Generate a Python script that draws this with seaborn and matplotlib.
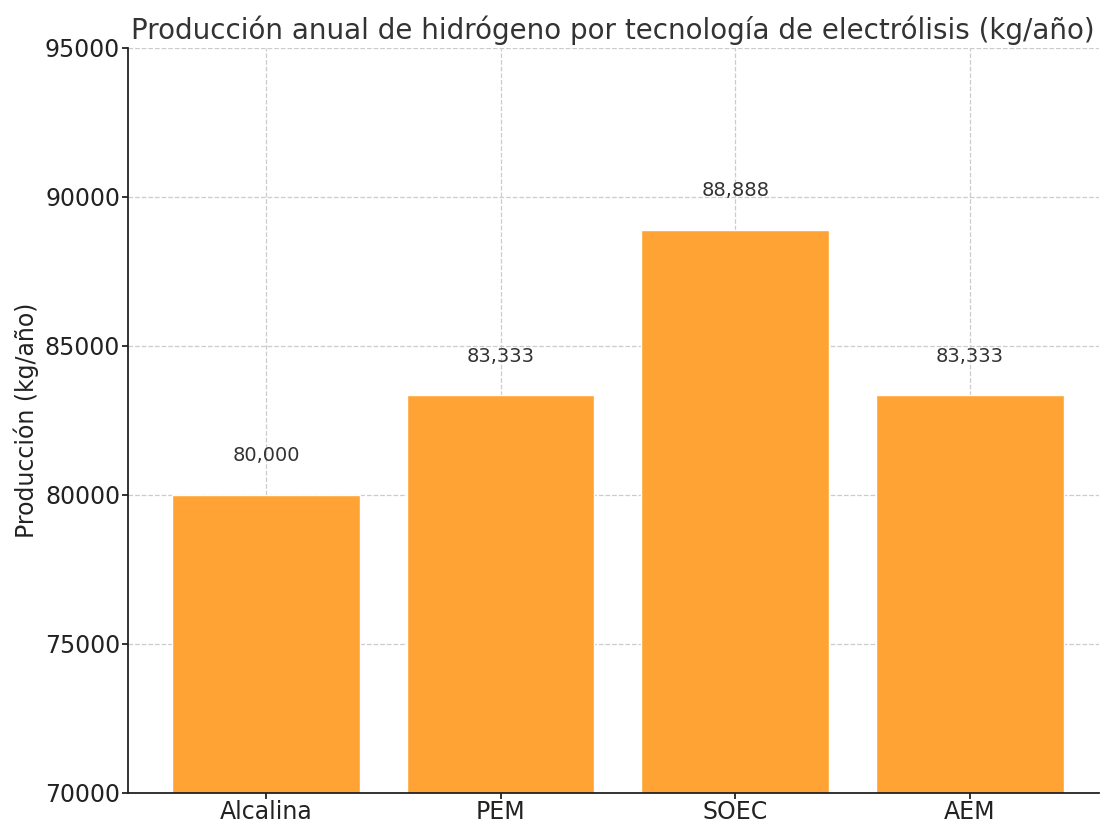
import matplotlib
matplotlib.use("Agg")
import matplotlib.pyplot as plt
import seaborn as sns
import pandas as pd

tecnologias = ["Alcalina", "PEM", "SOEC", "AEM"]
produccion = [80000, 83333, 88888, 83333]

df = pd.DataFrame({"Tecnología": tecnologias, "Producción": produccion})

sns.set_style("white")
plt.rcParams["font.family"] = ["DejaVu Sans"]

fig, ax = plt.subplots(figsize=(11.01, 8.23), dpi=100)
sns.barplot(data=df, x="Tecnología", y="Producción", color="#FFA334",
            saturation=1, width=0.8, ax=ax, zorder=2)

for i, v in enumerate(produccion):
    ax.text(i, v + 1000, f"{v:,}", ha="center", va="bottom",
            fontsize=14, color="#333333")

ax.set_xlim(-0.59, 3.55)
ax.set_ylim(70000, 95000)
ax.set_yticks([70000, 75000, 80000, 85000, 90000, 95000])
ax.grid(True, linestyle="--", color="#cccccc", linewidth=0.9, zorder=0)
ax.set_axisbelow(True)
sns.despine(ax=ax)
for s in ["left", "bottom"]:
    ax.spines[s].set_color("#222222")
    ax.spines[s].set_linewidth(1.3)
ax.tick_params(axis="both", labelsize=17, length=4, width=1.3, pad=1.5,
               colors="#222222", left=True, bottom=True)

ax.set_title("Producción anual de hidrógeno por tecnología de electrólisis (kg/año)",
             fontsize=20, color="#333333", pad=6)
ax.set_xlabel("")
ax.set_ylabel("Producción (kg/año)", fontsize=17, color="#222222")

fig.subplots_adjust(left=0.116, right=0.998, top=0.942, bottom=0.037)
fig.savefig("out.png", dpi=100)
